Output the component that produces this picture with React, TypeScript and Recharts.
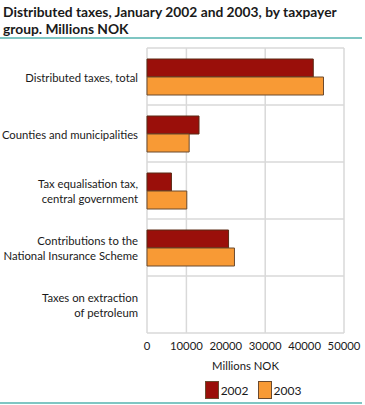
import React from 'react';
import { BarChart, Bar, XAxis, YAxis, CartesianGrid, Legend } from 'recharts';

const categories = [
  ['Distributed taxes, total'],
  ['Counties and municipalities'],
  ['Tax equalisation tax,', 'central government'],
  ['Contributions to the', 'National Insurance Scheme'],
  ['Taxes on extraction', 'of petroleum'],
];
const values2002 = [42200, 13200, 6200, 20700, 0];
const values2003 = [44800, 10700, 10100, 22200, 0];
const xTicks = [0, 10000, 20000, 30000, 40000, 50000];
const seriesNames = ['2002', '2003'];
const seriesColors = ['#9a0f0a', '#f89a35'];

const data = categories.map((c, i) => ({
  name: c.join('|'),
  v2002: values2002[i],
  v2003: values2003[i],
}));

const FONT = "Lato, 'Noto Sans', sans-serif";
const FS = 11.3;

const YTick = (props: any) => {
  const { x, y, payload } = props;
  const lines: string[] = String(payload.value).split('|');
  const lh = 15;
  const start = y - ((lines.length - 1) * lh) / 2;
  return (
    <text x={x} y={start} textAnchor="end" fontSize={FS} fill="#1a1a1a" fontFamily={FONT} dominantBaseline="central">
      {lines.map((l, i) => (
        <tspan key={i} x={x} y={start + i * lh} dominantBaseline="central">{l}</tspan>
      ))}
    </text>
  );
};

const LegendContent = () => (
  <div style={{ display: 'flex', justifyContent: 'center', alignItems: 'center', height: 30, paddingLeft: 162, fontFamily: FONT, fontSize: 12, color: '#1a1a1a' }}>
    {seriesNames.map((n, i) => (
      <div key={n} style={{ display: 'flex', alignItems: 'center', marginRight: i === 0 ? 9 : 0 }}>
        <div style={{ width: 12, height: 16, background: seriesColors[i], border: '1px solid #6b4a2f', marginRight: 2 }} />
        <span>{n}</span>
      </div>
    ))}
  </div>
);

export default function App() {
  return (
    <div style={{ position: 'absolute', left: 0, top: 0, width: 365, height: 405, background: '#fff' }}>
      <div style={{ position: 'absolute', left: 3, top: 3, width: 362, fontFamily: FONT, fontWeight: 700, fontSize: 13.8, lineHeight: '17px', color: '#1a1a1a' }}>
        Distributed taxes, January 2002 and 2003, by taxpayer group. Millions NOK
      </div>
      <div style={{ position: 'absolute', left: 0, top: 37, width: 362, height: 2, background: '#7fc6c3' }} />
      <div style={{ position: 'absolute', left: 0, top: 402, width: 362, height: 2, background: '#7fc6c3' }} />
      <div style={{ position: 'absolute', left: 0, top: 0 }}>
        <BarChart
          width={365}
          height={405}
          data={data}
          layout="vertical"
          margin={{ top: 48, right: 21, bottom: 0, left: 0 }}
          barCategoryGap={11}
          barGap={0}
        >
          <CartesianGrid
            stroke="#d9d9d9"
            strokeWidth={1.5}
            horizontalCoordinatesGenerator={({ offset }: any) =>
              [0, 1, 2, 3, 4, 5].map((i) => offset.top + (i * offset.height) / 5)
            }
          />
          <XAxis
            type="number"
            domain={[0, 50000]}
            ticks={xTicks}
            axisLine={false}
            tickLine={false}
            height={42}
            tick={{ fontSize: FS, fill: '#1a1a1a', fontFamily: FONT }}
            tickMargin={3}
            label={{ value: 'Millions NOK', position: 'insideBottom', offset: 5, fontSize: FS, fill: '#1a1a1a', fontFamily: FONT }}
          />
          <YAxis
            type="category"
            dataKey="name"
            width={147}
            axisLine={false}
            tickLine={false}
            tick={<YTick />}
            tickMargin={3}
            interval={0}
          />
          <Legend verticalAlign="bottom" height={30} content={<LegendContent />} />
          <Bar dataKey="v2002" name="2002" fill={seriesColors[0]} stroke="#5a2a14" strokeWidth={1} isAnimationActive={false} />
          <Bar dataKey="v2003" name="2003" fill={seriesColors[1]} stroke="#6b4a2f" strokeWidth={1} isAnimationActive={false} />
        </BarChart>
      </div>
    </div>
  );
}
